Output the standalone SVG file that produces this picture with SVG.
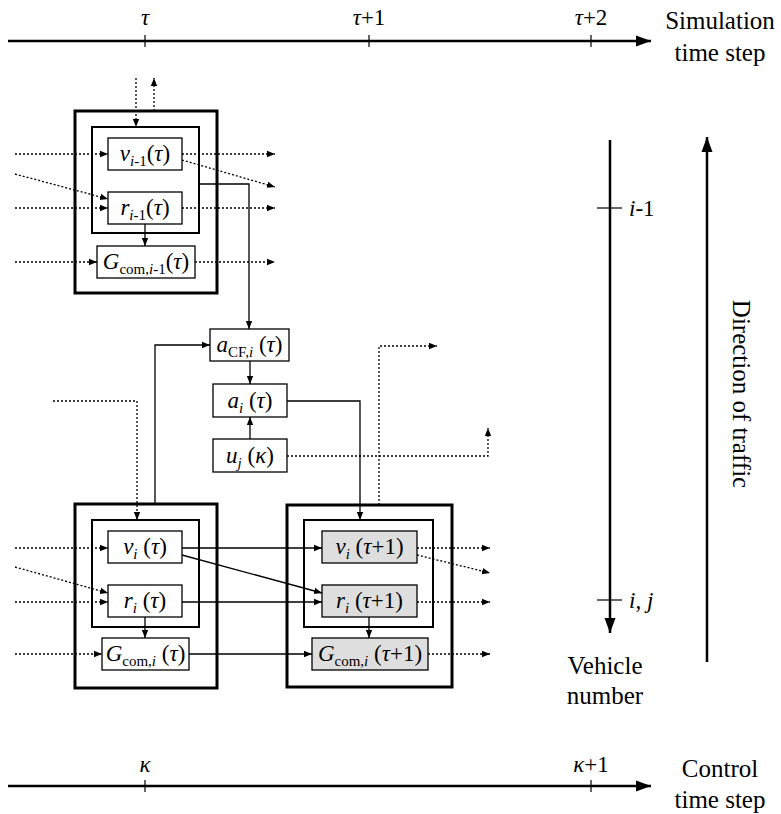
<svg xmlns="http://www.w3.org/2000/svg" width="781" height="814" viewBox="0 0 781 814">
  <style>
    text { font-family: "Liberation Serif", Tinos, "Times New Roman", "DejaVu Serif", serif; fill: #000; }
    .lbl { font-size: 23px; text-anchor: middle; }
    .it { font-style: italic; }
    .sub { font-size: 15px; }
    .big { font-size: 25px; text-anchor: middle; }
    .tick { font-size: 23px; text-anchor: middle; }
    .outer { fill: #fff; stroke: #000; stroke-width: 3; }
    .inner { fill: none; stroke: #000; stroke-width: 2; }
    .box { fill: #fff; stroke: #000; stroke-width: 1.3; }
    .boxg { fill: #dedede; stroke: #000; stroke-width: 1.3; }
    .axis { fill: none; stroke: #000; stroke-width: 2.5; }
    .tk { stroke: #000; stroke-width: 1.2; }
    .s { fill: none; stroke: #000; stroke-width: 1.3; marker-end: url(#ah); }
    .d { fill: none; stroke: #000; stroke-width: 1.3; stroke-dasharray: 2 2; marker-end: url(#ah); }
  </style>
  <defs>
    <marker id="ah" markerUnits="userSpaceOnUse" markerWidth="9" markerHeight="8" refX="8" refY="4" orient="auto">
      <path d="M0,0.8 L8,4 L0,7.2 Z" fill="#000"/>
    </marker>
    <marker id="big" markerUnits="userSpaceOnUse" markerWidth="16" markerHeight="12" refX="15" refY="6" orient="auto">
      <path d="M0,0.5 L15,6 L0,11.5 Z" fill="#000"/>
    </marker>
  </defs>

  <!-- simulation time axis -->
  <g id="sim-axis">
    <line class="axis" x1="8" y1="41" x2="651" y2="41" marker-end="url(#big)"/>
    <line class="tk" x1="145" y1="35" x2="145" y2="47"/>
    <line class="tk" x1="369" y1="35" x2="369" y2="47"/>
    <line class="tk" x1="591" y1="35" x2="591" y2="47"/>
    <text class="tick" x="145" y="25"><tspan class="it">τ</tspan></text>
    <text class="tick" x="369" y="25"><tspan class="it">τ</tspan>+1</text>
    <text class="tick" x="591" y="25"><tspan class="it">τ</tspan>+2</text>
    <text class="big" x="720" y="29">Simulation</text>
    <text class="big" x="720" y="61">time step</text>
  </g>

  <!-- control time axis -->
  <g id="ctrl-axis">
    <line class="axis" x1="8" y1="786" x2="651" y2="786" marker-end="url(#big)"/>
    <line class="tk" x1="145" y1="780" x2="145" y2="792"/>
    <line class="tk" x1="591" y1="780" x2="591" y2="792"/>
    <text class="tick" x="145" y="772"><tspan class="it">κ</tspan></text>
    <text class="tick" x="591" y="772"><tspan class="it">κ</tspan>+1</text>
    <text class="big" x="720" y="777">Control</text>
    <text class="big" x="720" y="808">time step</text>
  </g>

  <!-- vehicle number axis -->
  <g id="vehicle-axis">
    <line class="axis" x1="610" y1="140" x2="610" y2="633" marker-end="url(#big)"/>
    <line class="tk" x1="597" y1="208" x2="622" y2="208" stroke-width="1.5"/>
    <line class="tk" x1="597" y1="600" x2="622" y2="600" stroke-width="1.5"/>
    <text x="629" y="216" font-size="23"><tspan class="it">i</tspan>-1</text>
    <text x="629" y="608" font-size="23"><tspan class="it">i</tspan>, <tspan class="it">j</tspan></text>
    <text class="big" x="605" y="674">Vehicle</text>
    <text class="big" x="605" y="704">number</text>
  </g>

  <!-- traffic direction -->
  <g id="traffic-dir">
    <line class="axis" x1="707" y1="662" x2="707" y2="137" marker-end="url(#big)"/>
    <text class="big" transform="translate(733,394) rotate(90)" x="0" y="0">Direction of traffic</text>
  </g>

  <!-- vehicle i-1 at step tau -->
  <g id="veh-prev">
    <rect class="outer" x="75" y="111" width="142" height="182"/>
    <rect class="inner" x="92" y="127" width="107" height="106"/>
    <g id="v-prev">
      <rect class="box" x="108" y="138" width="74" height="32"/>
      <text class="lbl" x="145" y="161"><tspan class="it">v</tspan><tspan class="sub it" dy="5">i</tspan><tspan class="sub">-1</tspan><tspan dy="-5">(</tspan><tspan class="it">τ</tspan>)</text>
    </g>
    <g id="r-prev">
      <rect class="box" x="108" y="192" width="74" height="32"/>
      <text class="lbl" x="145" y="215"><tspan class="it">r</tspan><tspan class="sub it" dy="5">i</tspan><tspan class="sub">-1</tspan><tspan dy="-5">(</tspan><tspan class="it">τ</tspan>)</text>
    </g>
    <g id="g-prev">
      <rect class="box" x="97" y="246" width="98" height="32"/>
      <text class="lbl" x="146" y="269"><tspan class="it">G</tspan><tspan class="sub" dy="5">com,</tspan><tspan class="sub it">i</tspan><tspan class="sub">-1</tspan><tspan dy="-5">(</tspan><tspan class="it">τ</tspan>)</text>
    </g>
  </g>

  <!-- car-following, acceleration and control input -->
  <g id="acf">
    <rect class="box" x="210" y="329" width="79" height="32"/>
    <text class="lbl" x="249.5" y="352"><tspan class="it">a</tspan><tspan class="sub" dy="5">CF,</tspan><tspan class="sub it">i</tspan><tspan dy="-5"> (</tspan><tspan class="it">τ</tspan>)</text>
  </g>
  <g id="acc">
    <rect class="box" x="213" y="384" width="74" height="33"/>
    <text class="lbl" x="250" y="408"><tspan class="it">a</tspan><tspan class="sub it" dy="5">i</tspan><tspan dy="-5"> (</tspan><tspan class="it">τ</tspan>)</text>
  </g>
  <g id="ctrl">
    <rect class="box" x="213" y="439" width="74" height="33"/>
    <text class="lbl" x="250" y="463"><tspan class="it">u</tspan><tspan class="sub it" dy="5">j</tspan><tspan dy="-5"> (</tspan><tspan class="it">κ</tspan>)</text>
  </g>

  <!-- vehicle i at step tau -->
  <g id="veh-cur">
    <rect class="outer" x="75" y="504" width="142" height="184"/>
    <rect class="inner" x="92" y="520" width="107" height="107"/>
    <g id="v-cur">
      <rect class="box" x="108" y="531" width="74" height="32"/>
      <text class="lbl" x="145" y="554"><tspan class="it">v</tspan><tspan class="sub it" dy="5">i</tspan><tspan dy="-5"> (</tspan><tspan class="it">τ</tspan>)</text>
    </g>
    <g id="r-cur">
      <rect class="box" x="108" y="585" width="74" height="32"/>
      <text class="lbl" x="145" y="608"><tspan class="it">r</tspan><tspan class="sub it" dy="5">i</tspan><tspan dy="-5"> (</tspan><tspan class="it">τ</tspan>)</text>
    </g>
    <g id="g-cur">
      <rect class="box" x="102" y="638" width="87" height="32"/>
      <text class="lbl" x="145.5" y="661"><tspan class="it">G</tspan><tspan class="sub" dy="5">com,</tspan><tspan class="sub it">i</tspan><tspan dy="-5"> (</tspan><tspan class="it">τ</tspan>)</text>
    </g>
  </g>

  <!-- vehicle i at step tau+1 -->
  <g id="veh-next">
    <rect class="outer" x="287" y="505" width="165" height="182"/>
    <rect class="inner" x="304" y="520" width="129" height="107"/>
    <g id="v-next">
      <rect class="boxg" x="322" y="531" width="95" height="32"/>
      <text class="lbl" x="369.5" y="554"><tspan class="it">v</tspan><tspan class="sub it" dy="5">i</tspan><tspan dy="-5"> (</tspan><tspan class="it">τ</tspan>+1)</text>
    </g>
    <g id="r-next">
      <rect class="boxg" x="322" y="585" width="95" height="32"/>
      <text class="lbl" x="369.5" y="608"><tspan class="it">r</tspan><tspan class="sub it" dy="5">i</tspan><tspan dy="-5"> (</tspan><tspan class="it">τ</tspan>+1)</text>
    </g>
    <g id="g-next">
      <rect class="boxg" x="312" y="638" width="116" height="32"/>
      <text class="lbl" x="370" y="661"><tspan class="it">G</tspan><tspan class="sub" dy="5">com,</tspan><tspan class="sub it">i</tspan><tspan dy="-5"> (</tspan><tspan class="it">τ</tspan>+1)</text>
    </g>
  </g>

  <!-- connectors -->
  <g id="connectors">
    <!-- into / out of vehicle i-1 -->
    <path class="d" d="M15,154 H108"/>
    <path class="d" d="M15,174 L108,199"/>
    <path class="d" d="M15,208 H108"/>
    <path class="d" d="M15,262 H97"/>
    <path class="d" d="M182,154 H275"/>
    <path class="d" d="M182,160 L275,187"/>
    <path class="d" d="M182,208 H275"/>
    <path class="d" d="M195,262 H275"/>
    <path class="d" d="M136,78 V127"/>
    <path class="d" d="M154,111 V78"/>
    <path class="s" d="M145,224 V246"/>
    <path class="s" d="M199,184 H249 V329"/>

    <!-- acceleration chain -->
    <path class="s" d="M250,361 V384"/>
    <path class="s" d="M250,439 V417"/>
    <path class="s" d="M155,504 V345 H210"/>
    <path class="s" d="M287,401 H360 V520"/>
    <path class="d" d="M53,401 H137 V520"/>
    <path class="d" d="M379,505 V346 H437"/>
    <path class="d" d="M287,456 H488 V428"/>

    <!-- into vehicle i -->
    <path class="d" d="M15,548 H108"/>
    <path class="d" d="M15,567 L108,593"/>
    <path class="d" d="M15,602 H108"/>
    <path class="d" d="M15,654 H102"/>
    <path class="s" d="M145,617 V638"/>

    <!-- step tau to tau+1 -->
    <path class="s" d="M182,548 H322"/>
    <path class="s" d="M182,555 L322,593"/>
    <path class="s" d="M182,602 H322"/>
    <path class="s" d="M189,654 H312"/>
    <path class="s" d="M369,617 V638"/>

    <!-- out of vehicle i at tau+1 -->
    <path class="d" d="M417,548 H490"/>
    <path class="d" d="M417,555 L490,573"/>
    <path class="d" d="M417,602 H490"/>
    <path class="d" d="M428,654 H490"/>
  </g>
</svg>
